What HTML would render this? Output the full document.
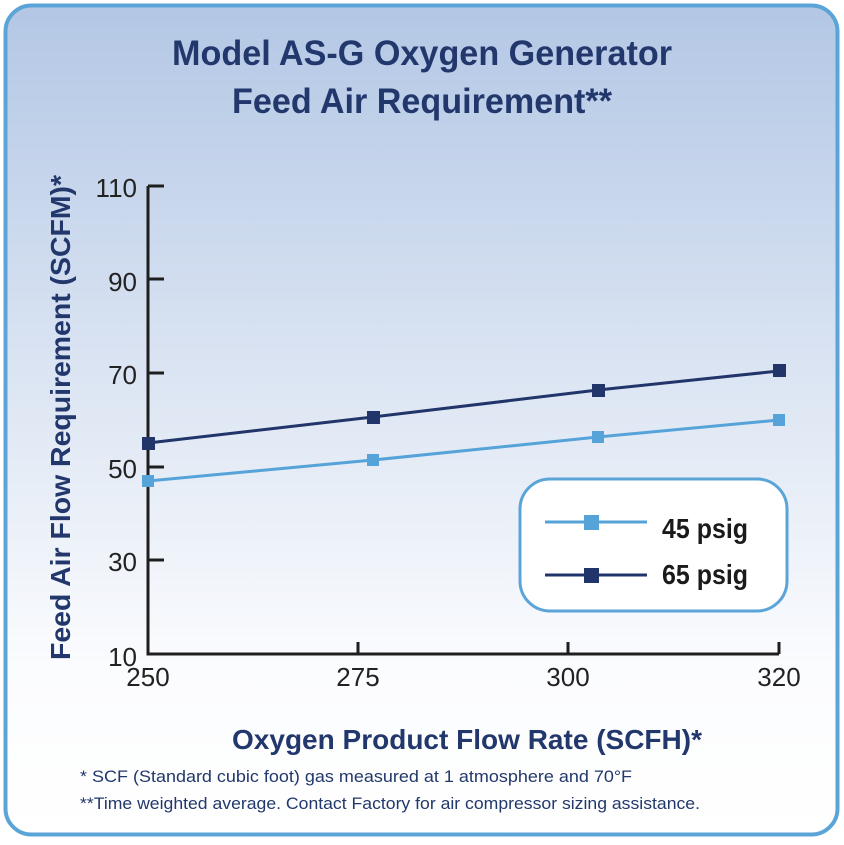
<!DOCTYPE html>
<html><head><meta charset="utf-8"><style>
html,body{margin:0;padding:0;background:#fff;}
body{width:844px;height:840px;overflow:hidden;font-family:"Liberation Sans",Arial,sans-serif;}
</style></head><body>
<svg width="844" height="840" xmlns="http://www.w3.org/2000/svg" font-family="Liberation Sans, Arial, sans-serif">
<defs>
<linearGradient id="bg" x1="0" y1="0" x2="0" y2="1">
<stop offset="0" stop-color="#b3c7e5"/>
<stop offset="0.45" stop-color="#dce5f3"/>
<stop offset="0.8" stop-color="#fbfcfe"/>
<stop offset="1" stop-color="#ffffff"/>
</linearGradient>
</defs>
<rect x="5.5" y="5.5" width="832" height="829" rx="26" fill="url(#bg)" stroke="#5ba4d8" stroke-width="4"/>
<g fill="#22386c" font-weight="bold" font-size="35">
<text x="172" y="65" textLength="500" lengthAdjust="spacingAndGlyphs">Model AS-G Oxygen Generator</text>
<text x="232" y="113" textLength="380" lengthAdjust="spacingAndGlyphs">Feed Air Requirement**</text>
</g>
<text transform="translate(70,660) rotate(-90)" fill="#22386c" font-weight="bold" font-size="28" textLength="485" lengthAdjust="spacingAndGlyphs">Feed Air Flow Requirement (SCFM)*</text>
<text x="232" y="749" fill="#22386c" font-weight="bold" font-size="28" textLength="470" lengthAdjust="spacingAndGlyphs">Oxygen Product Flow Rate (SCFH)*</text>
<g fill="#22386c" font-size="17">
<text x="80" y="782" textLength="552" lengthAdjust="spacingAndGlyphs">* SCF (Standard cubic foot) gas measured at 1 atmosphere and 70°F</text>
<text x="80" y="809" textLength="620" lengthAdjust="spacingAndGlyphs">**Time weighted average. Contact Factory for air compressor sizing assistance.</text>
</g>
<g stroke="#1e1e1e" stroke-width="3" fill="none">
<path d="M148,186 V654 H779"/>
<path d="M148,186 H164 M148,279 H164 M148,373 H164 M148,467 H164 M148,560 H164"/>
<path d="M358,654 V642 M568,654 V642 M779,654 V642"/>
</g>
<g fill="#222" font-size="26" text-anchor="end">
<text x="137" y="197">110</text>
<text x="137" y="291">90</text>
<text x="137" y="384">70</text>
<text x="137" y="478">50</text>
<text x="137" y="571">30</text>
<text x="137" y="666">10</text>
</g>
<g fill="#222" font-size="26" text-anchor="middle">
<text x="148" y="686">250</text>
<text x="358" y="686">275</text>
<text x="568" y="686">300</text>
<text x="779" y="686">320</text>
</g>
<polyline points="148,481 373,460 598,437 779,420" fill="none" stroke="#55a3d8" stroke-width="3"/>
<g fill="#55a3d8">
<rect x="142" y="475" width="12" height="12"/><rect x="367" y="454" width="12" height="12"/><rect x="592" y="431" width="12" height="12"/><rect x="773" y="414" width="12" height="12"/>
</g>
<polyline points="148,443 373,417 598,390 779,371" fill="none" stroke="#22356a" stroke-width="3"/>
<g fill="#22356a">
<rect x="142" y="437" width="13" height="13"/><rect x="367" y="411" width="13" height="13"/><rect x="592" y="384" width="13" height="13"/><rect x="773" y="364" width="13" height="13"/>
</g>
<rect x="520" y="479" width="267" height="132" rx="30" fill="#fff" stroke="#5ba4d8" stroke-width="3"/>
<line x1="545" y1="522" x2="647" y2="522" stroke="#55a3d8" stroke-width="3"/>
<rect x="584" y="515" width="15" height="15" fill="#55a3d8"/>
<line x1="545" y1="575" x2="647" y2="575" stroke="#22356a" stroke-width="3"/>
<rect x="584" y="568" width="15" height="15" fill="#22356a"/>
<g fill="#1a1a1a" font-weight="bold" font-size="28">
<text x="662" y="538" textLength="86" lengthAdjust="spacingAndGlyphs">45 psig</text>
<text x="662" y="584" textLength="86" lengthAdjust="spacingAndGlyphs">65 psig</text>
</g>
</svg>
</body></html>
